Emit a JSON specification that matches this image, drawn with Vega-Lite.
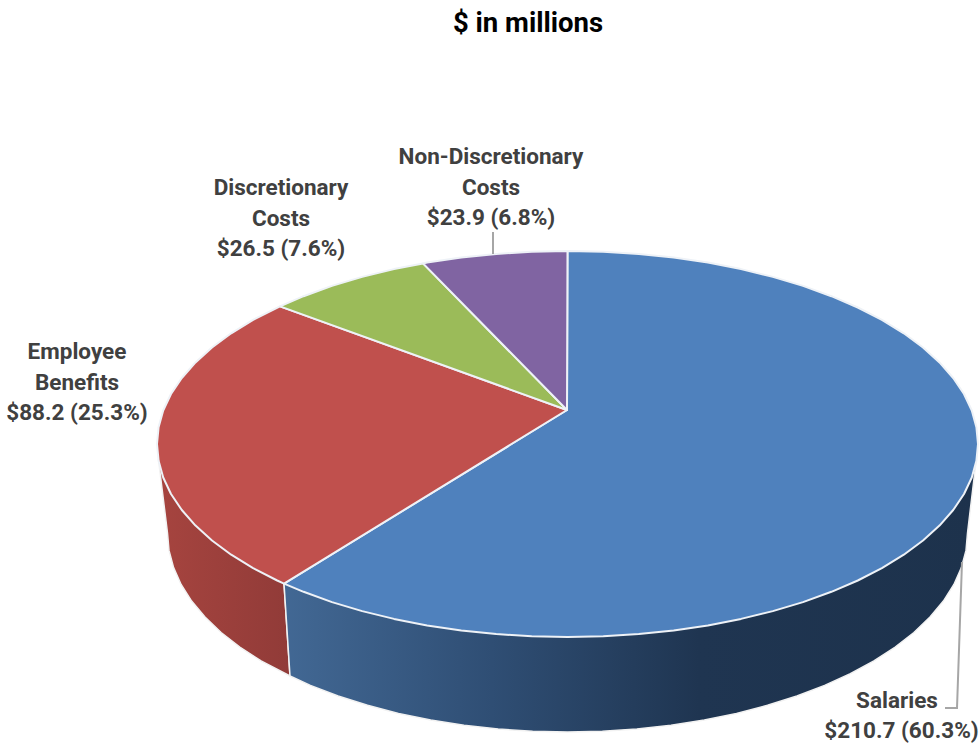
{"$schema":"https://vega.github.io/schema/vega-lite/v6.json","width":980,"height":749,"padding":0,"autosize":{"type":"fit","contains":"padding"},"background":"white","config":{"view":{"stroke":null}},
"datasets":{
"sideRed":[{"i":0,"x":158.6,"y":460.8},{"i":1,"x":167.5,"y":533},{"i":2,"x":169,"y":550.4},{"i":3,"x":173.6,"y":567.6},{"i":4,"x":181.1,"y":584.5},{"i":5,"x":191.6,"y":601.1},{"i":6,"x":205,"y":617.1},{"i":7,"x":221.1,"y":632.5},{"i":8,"x":239.8,"y":647.1},{"i":9,"x":261.1,"y":660.9},{"i":10,"x":290,"y":676},{"i":11,"x":284,"y":583.6}],
"sideBlue":[{"i":0,"x":284,"y":583.6},{"i":1,"x":290,"y":676},{"i":2,"x":310.4,"y":685.4},{"i":3,"x":338.1,"y":696},{"i":4,"x":367.5,"y":705.3},{"i":5,"x":398.5,"y":713.4},{"i":6,"x":430.7,"y":720},{"i":7,"x":464,"y":725.2},{"i":8,"x":498.1,"y":729},{"i":9,"x":532.6,"y":731.2},{"i":10,"x":567.5,"y":732},{"i":11,"x":602.4,"y":731.2},{"i":12,"x":636.9,"y":729},{"i":13,"x":671,"y":725.2},{"i":14,"x":704.3,"y":720},{"i":15,"x":736.5,"y":713.4},{"i":16,"x":767.5,"y":705.3},{"i":17,"x":796.9,"y":696},{"i":18,"x":824.6,"y":685.4},{"i":19,"x":850.3,"y":673.7},{"i":20,"x":873.9,"y":660.9},{"i":21,"x":895.2,"y":647.1},{"i":22,"x":913.9,"y":632.5},{"i":23,"x":930,"y":617.1},{"i":24,"x":943.4,"y":601.1},{"i":25,"x":953.9,"y":584.5},{"i":26,"x":961.4,"y":567.6},{"i":27,"x":966,"y":550.4},{"i":28,"x":967.5,"y":533},{"i":29,"x":976,"y":462}],
"slices":[
{"s":"Salaries","i":0,"x":567,"y":410},{"s":"Salaries","i":1,"x":284,"y":583.6},{"s":"Salaries","i":2,"x":303.6,"y":591.8},{"s":"Salaries","i":3,"x":332,"y":602.1},{"s":"Salaries","i":4,"x":362.2,"y":611.1},{"s":"Salaries","i":5,"x":394,"y":618.9},{"s":"Salaries","i":6,"x":427.1,"y":625.4},{"s":"Salaries","i":7,"x":461.3,"y":630.4},{"s":"Salaries","i":8,"x":496.2,"y":634.1},{"s":"Salaries","i":9,"x":531.7,"y":636.3},{"s":"Salaries","i":10,"x":567.5,"y":637},{"s":"Salaries","i":11,"x":603.3,"y":636.3},{"s":"Salaries","i":12,"x":638.8,"y":634.1},{"s":"Salaries","i":13,"x":673.7,"y":630.4},{"s":"Salaries","i":14,"x":707.9,"y":625.4},{"s":"Salaries","i":15,"x":741,"y":618.9},{"s":"Salaries","i":16,"x":772.8,"y":611.1},{"s":"Salaries","i":17,"x":803,"y":602.1},{"s":"Salaries","i":18,"x":831.4,"y":591.8},{"s":"Salaries","i":19,"x":857.8,"y":580.5},{"s":"Salaries","i":20,"x":881.9,"y":568.1},{"s":"Salaries","i":21,"x":903.8,"y":554.7},{"s":"Salaries","i":22,"x":923,"y":540.5},{"s":"Salaries","i":23,"x":939.5,"y":525.6},{"s":"Salaries","i":24,"x":953.2,"y":510},{"s":"Salaries","i":25,"x":964,"y":494},{"s":"Salaries","i":26,"x":971.8,"y":477.5},{"s":"Salaries","i":27,"x":976.4,"y":460.8},{"s":"Salaries","i":28,"x":978,"y":444},{"s":"Salaries","i":29,"x":976.4,"y":427.2},{"s":"Salaries","i":30,"x":971.8,"y":410.5},{"s":"Salaries","i":31,"x":964,"y":394},{"s":"Salaries","i":32,"x":953.2,"y":378},{"s":"Salaries","i":33,"x":939.5,"y":362.4},{"s":"Salaries","i":34,"x":923,"y":347.5},{"s":"Salaries","i":35,"x":903.8,"y":333.3},{"s":"Salaries","i":36,"x":881.9,"y":319.9},{"s":"Salaries","i":37,"x":857.8,"y":307.5},{"s":"Salaries","i":38,"x":831.4,"y":296.2},{"s":"Salaries","i":39,"x":803,"y":285.9},{"s":"Salaries","i":40,"x":772.8,"y":276.9},{"s":"Salaries","i":41,"x":741,"y":269.1},{"s":"Salaries","i":42,"x":707.9,"y":262.6},{"s":"Salaries","i":43,"x":673.7,"y":257.6},{"s":"Salaries","i":44,"x":638.8,"y":253.9},{"s":"Salaries","i":45,"x":603.3,"y":251.7},{"s":"Salaries","i":46,"x":567.5,"y":251},
{"s":"Employee Benefits","i":0,"x":567,"y":410},{"s":"Employee Benefits","i":1,"x":280,"y":306.4},{"s":"Employee Benefits","i":2,"x":253.1,"y":319.9},{"s":"Employee Benefits","i":3,"x":231.2,"y":333.3},{"s":"Employee Benefits","i":4,"x":212,"y":347.5},{"s":"Employee Benefits","i":5,"x":195.5,"y":362.4},{"s":"Employee Benefits","i":6,"x":181.8,"y":378},{"s":"Employee Benefits","i":7,"x":171,"y":394},{"s":"Employee Benefits","i":8,"x":163.2,"y":410.5},{"s":"Employee Benefits","i":9,"x":158.6,"y":427.2},{"s":"Employee Benefits","i":10,"x":157,"y":444},{"s":"Employee Benefits","i":11,"x":158.6,"y":460.8},{"s":"Employee Benefits","i":12,"x":163.2,"y":477.5},{"s":"Employee Benefits","i":13,"x":171,"y":494},{"s":"Employee Benefits","i":14,"x":181.8,"y":510},{"s":"Employee Benefits","i":15,"x":195.5,"y":525.6},{"s":"Employee Benefits","i":16,"x":212,"y":540.5},{"s":"Employee Benefits","i":17,"x":231.2,"y":554.7},{"s":"Employee Benefits","i":18,"x":253.1,"y":568.1},{"s":"Employee Benefits","i":19,"x":277.2,"y":580.5},{"s":"Employee Benefits","i":20,"x":284,"y":583.6},
{"s":"Discretionary Costs","i":0,"x":567,"y":410},{"s":"Discretionary Costs","i":1,"x":423,"y":263.4},{"s":"Discretionary Costs","i":2,"x":394,"y":269.1},{"s":"Discretionary Costs","i":3,"x":362.2,"y":276.9},{"s":"Discretionary Costs","i":4,"x":332,"y":285.9},{"s":"Discretionary Costs","i":5,"x":303.6,"y":296.2},{"s":"Discretionary Costs","i":6,"x":280,"y":306.4},
{"s":"Non-Discretionary Costs","i":0,"x":567,"y":410},{"s":"Non-Discretionary Costs","i":1,"x":567.5,"y":251},{"s":"Non-Discretionary Costs","i":2,"x":531.7,"y":251.7},{"s":"Non-Discretionary Costs","i":3,"x":496.2,"y":253.9},{"s":"Non-Discretionary Costs","i":4,"x":461.3,"y":257.6},{"s":"Non-Discretionary Costs","i":5,"x":427.1,"y":262.6},{"s":"Non-Discretionary Costs","i":6,"x":423,"y":263.4}
],
"leaders":[{"k":"n","i":0,"x":493,"y":232},{"k":"n","i":1,"x":493,"y":254},{"k":"s","i":0,"x":962,"y":562},{"k":"s","i":1,"x":957,"y":708},{"k":"s","i":2,"x":945,"y":708}],
"labels":[{"t":"Non-Discretionary\nCosts\n$23.9 (6.8%)","x":491,"y":157},{"t":"Discretionary\nCosts\n$26.5 (7.6%)","x":281,"y":188},{"t":"Employee\nBenefits\n$88.2 (25.3%)","x":77,"y":352},{"t":"Salaries","x":897,"y":701},{"t":"$210.7 (60.3%)","x":901.5,"y":731}],
"title":[{"t":"$ in millions","x":528,"y":24}]
},
"encoding":{"x":{"field":"x","type":"quantitative","axis":null,"scale":{"domain":[0,980],"nice":false,"zero":false}},"y":{"field":"y","type":"quantitative","axis":null,"scale":{"domain":[749,0],"nice":false,"zero":false}}},
"layer":[
{"data":{"name":"sideRed"},"mark":{"type":"line","interpolate":"linear-closed","stroke":"#f2f2f2","strokeWidth":1.5,"fill":{"gradient":"linear","x1":0,"y1":0,"x2":1,"y2":0,"stops":[{"offset":0,"color":"#A6443F"},{"offset":1,"color":"#913B38"}]}},"encoding":{"order":{"field":"i","type":"quantitative"}}},
{"data":{"name":"sideBlue"},"mark":{"type":"line","interpolate":"linear-closed","stroke":"#f2f2f2","strokeWidth":1.5,"fill":{"gradient":"linear","x1":0,"y1":0,"x2":1,"y2":0,"stops":[{"offset":0,"color":"#426894"},{"offset":0.3,"color":"#2F4E74"},{"offset":0.6,"color":"#1F3551"},{"offset":1,"color":"#1D324C"}]}},"encoding":{"order":{"field":"i","type":"quantitative"}}},
{"data":{"name":"slices"},"mark":{"type":"line","interpolate":"linear-closed","stroke":"#eef2f7","strokeWidth":2,"strokeJoin":"round"},"encoding":{"fill":{"field":"s","type":"nominal","legend":null,"scale":{"domain":["Salaries","Employee Benefits","Discretionary Costs","Non-Discretionary Costs"],"range":["#4F81BD","#C0504D","#9BBB59","#8064A2"]}},"order":{"field":"i","type":"quantitative"}}},
{"data":{"name":"leaders"},"mark":{"type":"line","stroke":"#A6A6A6","strokeWidth":2},"encoding":{"detail":{"field":"k"},"order":{"field":"i","type":"quantitative"}}},
{"data":{"name":"labels"},"mark":{"type":"text","font":"Roboto","fontWeight":"bold","fontSize":22.5,"color":"#404040","align":"center","baseline":"middle","lineBreak":"\n","lineHeight":30.5},"encoding":{"text":{"field":"t"}}},
{"data":{"name":"title"},"mark":{"type":"text","font":"Roboto","fontWeight":"bold","fontSize":27.5,"color":"#000000","align":"center","baseline":"middle"},"encoding":{"text":{"field":"t"}}}
]}
